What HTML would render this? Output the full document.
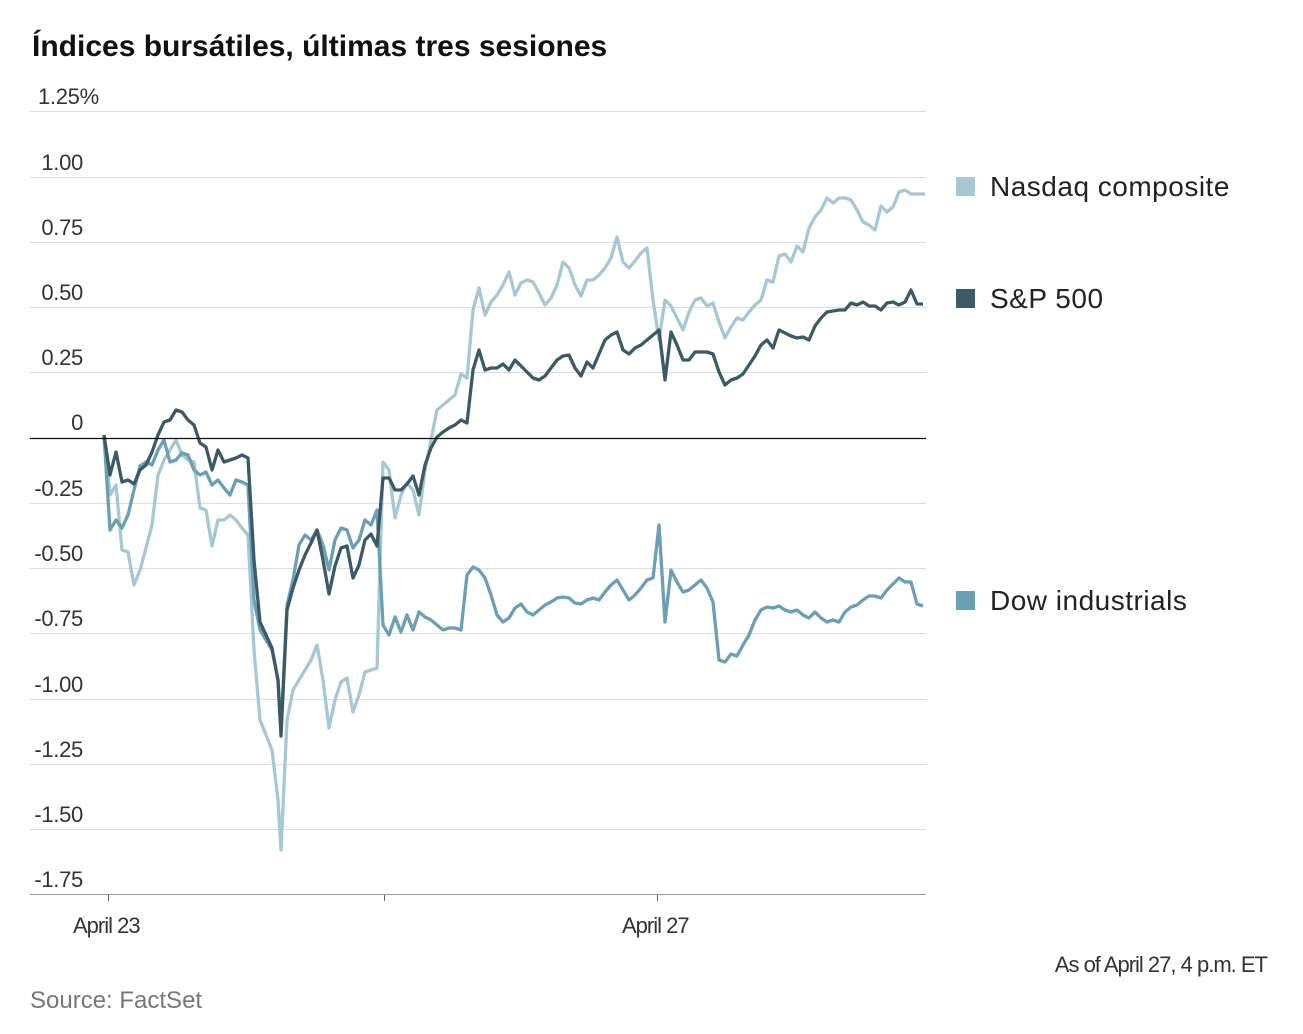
<!DOCTYPE html>
<html><head><meta charset="utf-8"><style>
body{margin:0;background:#fff;}
svg{display:block;font-family:"Liberation Sans",sans-serif;}
</style></head><body>
<svg width="1303" height="1034" viewBox="0 0 1303 1034">
<text x="32" y="56" font-size="30" font-weight="bold" fill="#111">Índices bursátiles, últimas tres sesiones</text>
<g stroke="#ddd" stroke-width="1">
<line x1="30" x2="926" y1="111.5" y2="111.5"/><line x1="30" x2="926" y1="177.5" y2="177.5"/><line x1="30" x2="926" y1="242.5" y2="242.5"/><line x1="30" x2="926" y1="307.5" y2="307.5"/><line x1="30" x2="926" y1="372.5" y2="372.5"/><line x1="30" x2="926" y1="503.5" y2="503.5"/><line x1="30" x2="926" y1="568.5" y2="568.5"/><line x1="30" x2="926" y1="633.5" y2="633.5"/><line x1="30" x2="926" y1="699.5" y2="699.5"/><line x1="30" x2="926" y1="764.5" y2="764.5"/><line x1="30" x2="926" y1="829.5" y2="829.5"/>
</g>
<line x1="30" x2="926" y1="894.5" y2="894.5" stroke="#999"/>
<g stroke="#666"><line x1="108.5" x2="108.5" y1="895" y2="901"/><line x1="384.5" x2="384.5" y1="895" y2="901"/><line x1="657.5" x2="657.5" y1="895" y2="901"/></g>
<text x="38" y="104" font-size="22" fill="#333" letter-spacing="-0.3">1.25%</text>
<g font-size="22" fill="#333" text-anchor="end" letter-spacing="-0.3">
<text x="83" y="170">1.00</text><text x="83" y="235">0.75</text><text x="83" y="300">0.50</text><text x="83" y="365">0.25</text><text x="83" y="430">0</text><text x="83" y="496">-0.25</text><text x="83" y="561">-0.50</text><text x="83" y="626">-0.75</text><text x="83" y="692">-1.00</text><text x="83" y="757">-1.25</text><text x="83" y="822">-1.50</text><text x="83" y="887">-1.75</text>
</g>
<g font-size="22" fill="#333" letter-spacing="-1"><text x="73" y="933">April 23</text><text x="622" y="933">April 27</text><text x="1267" y="972" text-anchor="end">As of April 27, 4 p.m. ET</text></g>
<text x="30" y="1008" font-size="24" fill="#777">Source: FactSet</text>
<g fill="none" stroke-width="3.3" stroke-linejoin="round">
<polyline stroke="#a5c8d4" points="104,435 110,495 116,485 122,550 128,552 134,585 140,570 146,548 152,525 158,475 164,460 170,450 176,440 182,455 188,460 194,462 200,508 206,510 212,546 218,520 224,520 230,515 236,520 242,528 248,535 254,650 260,720 266,735 272,750 278,800 281,850 287,720 293,690 299,680 305,670 311,660 317,645 323,680 329,728 335,700 341,682 347,678 353,712 359,695 365,672 371,670 377,668 383,462 389,470 395,518 401,495 407,483 413,490 419,515 425,470 431,440 437,410 443,405 449,400 455,395 461,374 467,378 473,310 479,288 485,315 491,302 497,295 503,285 509,272 515,295 521,283 527,280 533,282 539,293 545,305 551,298 557,285 563,262 569,268 575,285 581,296 587,280 593,280 599,275 605,268 611,258 617,237 623,262 629,268 635,261 641,253 647,248 653,300 659,340 665,300 671,306 677,318 683,330 689,312 695,300 701,298 707,306 713,303 719,322 725,338 731,327 737,318 743,320 749,312 755,305 761,300 767,280 773,282 779,256 785,254 791,262 797,246 803,252 809,228 815,217 821,210 827,198 833,203 839,198 845,198 851,200 857,210 863,222 869,225 875,230 881,206 887,212 893,207 899,192 905,190 911,194 919,194 925,194"/>
<polyline stroke="#6a9fb5" points="104,435 110,530 116,520 122,528 128,515 134,490 140,466 146,462 152,465 158,450 164,440 170,462 176,460 182,453 188,455 194,470 200,475 206,472 212,485 218,480 224,488 230,495 236,480 242,482 248,485 254,600 260,630 266,640 272,650 278,680 281,730 287,605 293,580 299,545 305,535 311,540 317,530 323,545 329,570 335,540 341,528 347,530 353,548 359,540 365,520 371,525 377,510 383,625 389,635 395,617 401,632 407,615 413,630 419,612 425,617 431,620 437,625 443,630 449,628 455,628 461,630 467,575 473,567 479,570 485,578 491,595 497,615 503,622 509,618 515,608 521,604 527,612 533,615 539,610 545,605 551,602 557,598 563,597 569,598 575,603 581,604 587,600 593,598 599,600 605,592 611,585 617,580 623,590 629,600 635,595 641,588 647,580 653,578 659,525 665,622 671,570 677,582 683,592 689,590 695,585 701,580 707,588 713,602 719,660 725,662 731,654 737,656 743,645 749,635 755,620 761,610 767,607 773,608 779,606 785,610 791,612 797,610 803,615 809,618 815,612 821,618 827,622 833,620 839,622 845,612 851,607 857,605 863,600 869,596 875,596 881,598 887,590 893,584 899,578 905,582 911,582 917,604 923,606"/>
<polyline stroke="#3b5a66" points="104,435 110,475 116,452 122,482 128,480 134,484 140,470 146,465 152,452 158,435 164,422 170,420 176,410 182,412 188,420 194,425 200,443 206,447 212,470 218,450 224,462 230,460 236,458 242,455 248,458 254,560 260,622 266,635 272,648 278,680 281,736 287,610 293,588 299,570 305,555 311,543 317,530 323,560 329,594 335,566 341,548 347,546 353,578 359,565 365,540 371,534 377,546 383,478 389,478 395,490 401,490 407,484 413,476 419,495 425,465 431,448 437,437 443,432 449,428 455,425 461,420 467,423 473,370 479,350 485,370 491,368 497,368 503,364 509,370 515,360 521,366 527,372 533,378 539,380 545,376 551,368 557,360 563,356 569,355 575,368 581,376 587,362 593,368 599,354 605,340 611,335 617,332 623,350 629,354 635,348 641,345 647,340 653,335 659,330 665,380 671,332 677,345 683,360 689,360 695,352 701,352 707,352 713,354 719,372 725,385 731,380 737,378 743,374 749,365 755,356 761,345 767,340 773,348 779,330 785,333 791,336 797,338 803,337 809,340 815,326 821,318 827,312 833,311 839,310 845,310 851,303 857,305 863,302 869,306 875,306 881,310 887,303 893,302 899,305 905,302 911,290 917,304 923,304"/>
</g>
<line x1="30" x2="926" y1="438.5" y2="438.5" stroke="#111" stroke-width="1.3"/>
<rect x="956" y="177" width="19" height="19" fill="#a5c8d4"/><text x="990" y="196" font-size="28" fill="#222" letter-spacing="0.5">Nasdaq composite</text>
<rect x="956" y="289" width="19" height="19" fill="#3b5a66"/><text x="990" y="308" font-size="28" fill="#222" letter-spacing="0.5">S&amp;P 500</text>
<rect x="956" y="591" width="19" height="19" fill="#6a9fb5"/><text x="990" y="610" font-size="28" fill="#222" letter-spacing="0.5">Dow industrials</text>
</svg>
</body></html>
